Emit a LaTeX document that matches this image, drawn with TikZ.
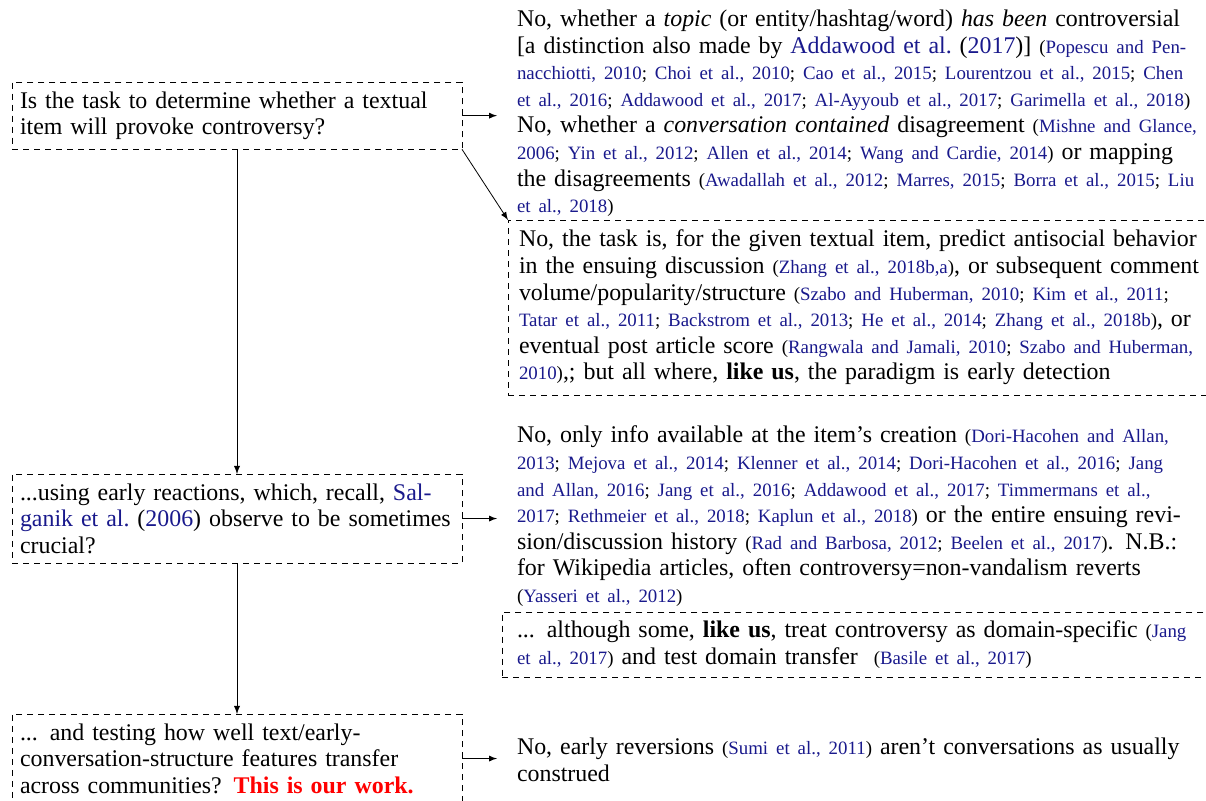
\documentclass[tikz,border=0pt]{standalone}
\usepackage{fontspec}
\setmainfont{Liberation Serif}
\definecolor{citeblue}{RGB}{25,25,140}
\newcommand\txtsz{\fontsize{11.95pt}{13.3pt}\selectfont}
\newcommand\csz{\fontsize{9.43pt}{13.3pt}\selectfont}
\newcommand\clink[1]{{\color{citeblue}#1}}

\begin{document}
\begin{tikzpicture}
[x=0.5pt,y=-0.5pt,
 every node/.style={inner sep=0mm,outer sep=0mm,font=\txtsz,anchor=north west},
 quest/.style={draw,dash pattern=on 3pt off 2.5pt,text width=217pt,align=left,inner xsep=4pt,inner ysep=4.75pt},
 ans/.style={text width=342pt,align=left,inner xsep=10pt},
 ansbox/.style={draw,dash pattern=on 3pt off 2.5pt,text width=342pt,align=left},
 >=latex]
\useasboundingbox (0,0) rectangle (1206,801);

% left column: the questions
\node[quest] (q1) at (12,82)
  {Is the task to determine whether a textual\linebreak
   item will provoke controversy?};
\node[quest] (q2) at (12,474)
  {...using early reactions, which, recall, \clink{Sal-}\linebreak
   \clink{ganik et al.}\ (\clink{2006}) observe to be sometimes\linebreak
   crucial?};
\node[quest] (q3) at (12,714)
  {... and testing how well text/early-\linebreak
   conversation-structure features transfer\linebreak
   across communities? {\color{red}\textbf{This is our work.}}};

% right column: the answers
\node[ans] (ansTopic) at (497,10)
  {No, whether a \emph{topic} (or entity/hashtag/word) \emph{has been} controversial\linebreak
   {[}a distinction also made by \clink{Addawood et al.}\ (\clink{2017})] {\csz(\clink{Popescu and Pen-}\linebreak
   \clink{nacchiotti, 2010}; \clink{Choi et al., 2010}; \clink{Cao et al., 2015}; \clink{Lourentzou et al., 2015}; \clink{Chen}\linebreak
   \clink{et al., 2016}; \clink{Addawood et al., 2017}; \clink{Al-Ayyoub et al., 2017}; \clink{Garimella et al., 2018})}\\
   No, whether a \emph{conversation contained} disagreement {\csz(\clink{Mishne and Glance,}\linebreak
   \clink{2006}; \clink{Yin et al., 2012}; \clink{Allen et al., 2014}; \clink{Wang and Cardie, 2014})} or mapping\linebreak
   the disagreements {\csz(\clink{Awadallah et al., 2012}; \clink{Marres, 2015}; \clink{Borra et al., 2015}; \clink{Liu}\linebreak
   \clink{et al., 2018})}};
\node[ansbox,inner xsep=5.5pt,inner ysep=5pt] (antisoc) at (508,220)
  {No, the task is, for the given textual item, predict antisocial behavior\linebreak
   in the ensuing discussion {\csz(\clink{Zhang et al., 2018b,a})}, or subsequent comment\linebreak
   volume/popularity/structure {\csz(\clink{Szabo and Huberman, 2010}; \clink{Kim et al., 2011};\linebreak
   \clink{Tatar et al., 2011}; \clink{Backstrom et al., 2013}; \clink{He et al., 2014}; \clink{Zhang et al., 2018b})}, or\linebreak
   eventual post article score {\csz(\clink{Rangwala and Jamali, 2010}; \clink{Szabo and Huberman,}\linebreak
   \clink{2010})},; but all where, \textbf{like us}, the paradigm is early detection};
\node[ans] (ansInfo) at (497,426)
  {No, only info available at the item’s creation {\csz(\clink{Dori-Hacohen and Allan,}\linebreak
   \clink{2013}; \clink{Mejova et al., 2014}; \clink{Klenner et al., 2014}; \clink{Dori-Hacohen et al., 2016}; \clink{Jang}\linebreak
   \clink{and Allan, 2016}; \clink{Jang et al., 2016}; \clink{Addawood et al., 2017}; \clink{Timmermans et al.,}\linebreak
   \clink{2017}; \clink{Rethmeier et al., 2018}; \clink{Kaplun et al., 2018})} or the entire ensuing revi-\linebreak
   sion/discussion history {\csz(\clink{Rad and Barbosa, 2012}; \clink{Beelen et al., 2017})}. N.B.:\linebreak
   for Wikipedia articles, often controversy=non-vandalism reverts\linebreak
   {\csz(\clink{Yasseri et al., 2012})}};
\node[ansbox,inner xsep=7.5pt,inner ysep=4.5pt] (domain) at (502,612)
  {... although some, \textbf{like us}, treat controversy as domain-specific {\csz(\clink{Jang}\linebreak
   \clink{et al., 2017})} and test domain transfer~ {\csz(\clink{Basile et al., 2017})}};
\node[ans] (ansRevert) at (497,738)
  {No, early reversions {\csz(\clink{Sumi et al., 2011})} aren’t conversations as usually\linebreak
   construed};

\path[->] (q1.east)        edge (q1.east -| ansTopic.west);
\path[->] (q1.south east)  edge (antisoc.north west);
\path[->] (q2.east)        edge (q2.east -| ansInfo.west);
\path[->] (q3.east)        edge (q3.east -| ansRevert.west);
\path[->] (q1.south)       edge (q2.north);
\path[->] (q2.south)       edge (q3.north);
\end{tikzpicture}
\end{document}
